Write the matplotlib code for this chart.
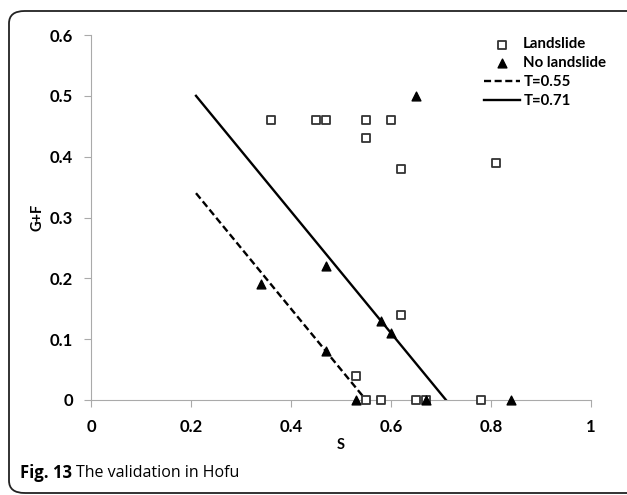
import matplotlib
matplotlib.use('Agg')
import matplotlib.pyplot as plt
from matplotlib.patches import FancyBboxPatch

# landslide points (S, G+F)
slide_s = [0.36, 0.45, 0.47, 0.55, 0.60, 0.55, 0.62, 0.81, 0.62, 0.53, 0.55, 0.58, 0.65, 0.67, 0.78]
slide_gf = [0.46, 0.46, 0.46, 0.46, 0.46, 0.43, 0.38, 0.39, 0.14, 0.04, 0.0, 0.0, 0.0, 0.0, 0.0]

# no landslide points
noslide_s = [0.65, 0.47, 0.34, 0.58, 0.60, 0.47, 0.53, 0.67, 0.84]
noslide_gf = [0.50, 0.22, 0.19, 0.13, 0.11, 0.08, 0.0, 0.0, 0.0]

# threshold lines G+F = T - S
thresholds = [0.55, 0.71]
line_start = 0.21

xticks = [0, 0.2, 0.4, 0.6, 0.8, 1]
xlabels = ['0', '0.2', '0.4', '0.6', '0.8', '1']
yticks = [0, 0.1, 0.2, 0.3, 0.4, 0.5, 0.6]
ylabels = ['0', '0.1', '0.2', '0.3', '0.4', '0.5', '0.6']

plt.rcParams['font.family'] = ['Lato', 'DejaVu Sans']

fig = plt.figure(figsize=(6.27, 4.95), dpi=100)
W, H = 627, 495
ax = fig.add_axes([91 / W, 1 - 400 / H, 500 / W, 365 / H])

# rounded frame around the figure (right side runs off the image)
frame = FancyBboxPatch((9 / W, 1 - 493 / H), 700 / W, 482 / H,
                       boxstyle='round,pad=0,rounding_size=0.025',
                       transform=fig.transFigure, fill=False,
                       edgecolor='#222222', linewidth=1.3, clip_on=False)
fig.patches.append(frame)

ax.scatter(slide_s, slide_gf, marker='s', s=28, facecolors='white',
           edgecolors='#333333', linewidths=1.3, label='Landslide', zorder=3, clip_on=False)
ax.scatter(noslide_s, noslide_gf, marker='^', s=40, color='black',
           label='No landslide', zorder=4, clip_on=False)

styles = ['--', '-']
for t, ls in zip(thresholds, styles):
    ax.plot([line_start, t], [t - line_start, 0], color='black', linestyle=ls,
            linewidth=1.7, label='T=%.2f' % t, zorder=2,
            dashes=(3, 1.5) if ls == '--' else (None, None))

ax.set_xlim(0, 1)
ax.set_ylim(0, 0.6)
ax.set_xticks(xticks)
ax.set_xticklabels(xlabels, fontweight='bold', fontsize=12)
ax.set_yticks(yticks)
ax.set_yticklabels(ylabels, fontweight='bold', fontsize=12)
for side in ['top', 'right']:
    ax.spines[side].set_visible(False)
for side in ['left', 'bottom']:
    ax.spines[side].set_color('#aaaaaa')
ax.tick_params(axis='both', colors='#aaaaaa', labelcolor='black', length=5)
ax.tick_params(axis='y', pad=8)
ax.tick_params(axis='x', pad=9)

ax.set_xlabel('S', fontweight='bold', fontsize=10.5, labelpad=2)
ax.set_ylabel('G+F', fontweight='bold', fontsize=10.5, labelpad=4)

leg = ax.legend(loc='upper left', bbox_to_anchor=(470 / W, 1 - 24 / H),
                bbox_transform=fig.transFigure, frameon=False,
                handlelength=2.4, handletextpad=0.25, labelspacing=0.32,
                prop={'weight': 'bold', 'size': 10.8})

fig.text(20 / W, 1 - 473 / H, 'Fig. 13', fontweight='bold', fontsize=12,
         family=['Open Sans', 'DejaVu Sans'], va='center')
fig.text(76 / W, 1 - 473 / H, 'The validation in Hofu', fontsize=11.5,
         family=['Open Sans', 'DejaVu Sans'], va='center')

fig.savefig('out.png', dpi=100)
